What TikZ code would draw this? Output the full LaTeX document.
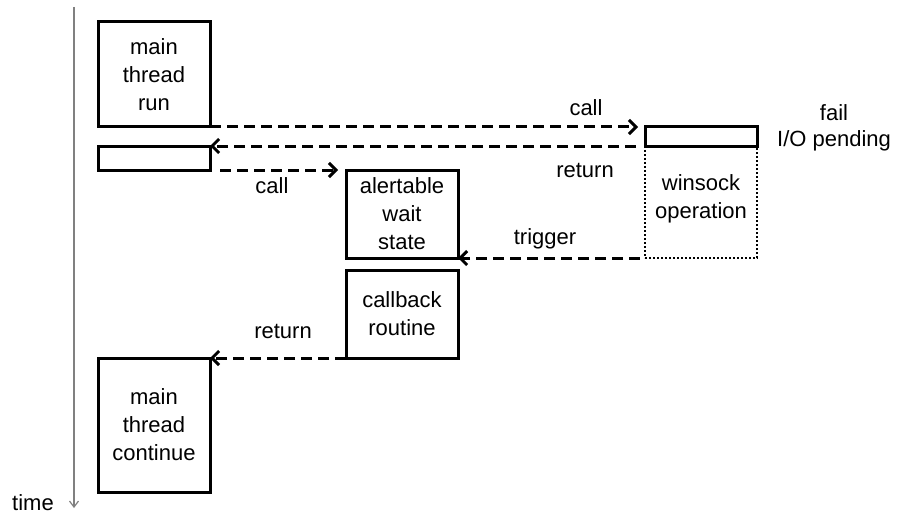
\documentclass[tikz,border=0pt]{standalone}
\usepackage{fontspec}
\setmainfont{Liberation Sans}
\usetikzlibrary{arrows.meta,positioning}
\definecolor{APCInk}{HTML}{000000}
\definecolor{APCAxis}{HTML}{808080}
\tikzset{
  apcbox/.style={
    draw=APCInk,
    line width=3pt,
    outer sep=0pt,
    inner sep=0pt,
    align=center,
    minimum width=112pt,
    font=\fontsize{22}{28}\selectfont
  },
  apcdotted/.style={
    apcbox,
    line width=2.4pt,
    dash pattern=on 2pt off 2pt
  },
  apclabel/.style={
    align=center,
    inner sep=0pt,
    font=\fontsize{22}{26}\selectfont
  },
  apcflow/.style={-{Straight Barb[length=7pt,width=14pt]},draw=APCInk,line width=3pt,dash pattern=on 11pt off 6pt},
  apcaxis/.style={-{Straight Barb[length=6pt,width=9pt]},draw=APCAxis,line width=1.2pt}
}

\begin{document}
\begin{tikzpicture}[x=1pt,y=-1pt]
  \useasboundingbox (0,0) rectangle (899,516);

  % time axis
  \coordinate (t0) at (74,7);
  \coordinate (t1) at (74,508);
  \draw[apcaxis] (t0) -- (t1);
  \node[apclabel] (time) at (33,503) {time};

  % main thread
  \node[apcbox,anchor=north west,minimum height=105pt] (run) at (98,22) {main\\thread\\run};
  \node[apcbox,below=19pt of run,minimum height=24pt] (runtail) {};
  \node[apcbox,anchor=north west,minimum height=134pt] (cont) at (98,358) {main\\thread\\continue};

  % winsock side
  \node[apcbox,anchor=north west,minimum height=19pt] (wsfail) at (645,127) {};
  \node[apcdotted,below=0pt of wsfail,minimum height=112pt] (wsop) {winsock\\operation\\[-18pt]};
  \node[apclabel] (failtxt) at (834,128) {fail\\I/O pending};

  % alertable wait and the callback
  \node[apcbox,anchor=north west,minimum height=88pt] (alert) at (346,170) {alertable\\wait\\state};
  \node[apcbox,below=12pt of alert,minimum height=88pt] (callback) {callback\\routine};

  \draw[apcflow,shorten >=7pt] (run.south east) -- (wsfail.north west);
  \draw[apcflow,shorten <=9pt] (wsop.north west) -- (runtail.north east);
  \draw[apcflow,shorten <=10pt,shorten >=8pt] (runtail.south east) -- (alert.north west);
  \draw[apcflow,shorten <=5pt] (wsop.south west) -- (alert.south east);
  \draw[apcflow] (callback.south west) -- (cont.north east);

  \node[apclabel] (calltxt) at (586,108) {call};
  \node[apclabel] (rettxt) at (585,170) {return};
  \node[apclabel] (calltxtb) at (272,186) {call};
  \node[apclabel] (trigtxt) at (545,239) {trigger};
  \node[apclabel] (rettxtb) at (283,331) {return};
\end{tikzpicture}
\end{document}
